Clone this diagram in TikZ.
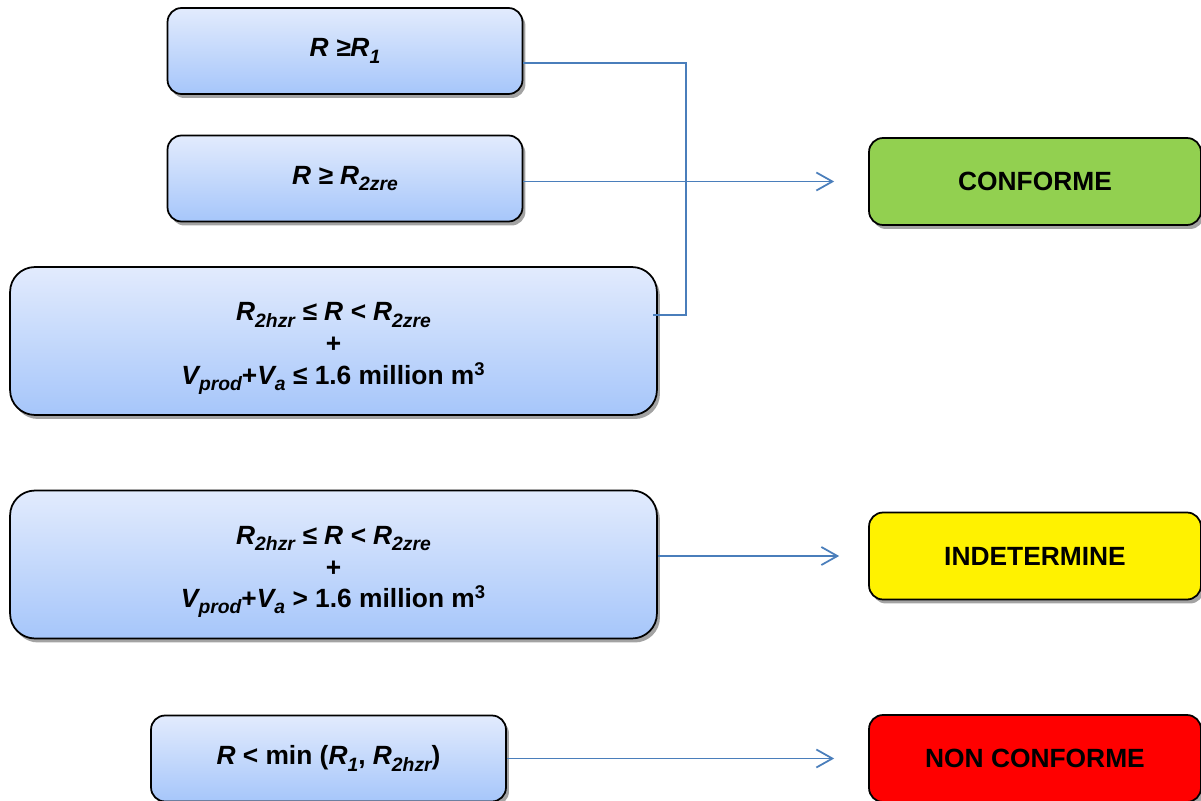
\documentclass[tikz,border=0pt]{standalone}
\usepackage{fontspec}
\setmainfont{Liberation Sans}
\usetikzlibrary{arrows.meta,shadows}
\definecolor{linkblue}{RGB}{74,126,187}
\definecolor{boxtop}{RGB}{226,235,253}
\definecolor{boxbottom}{RGB}{166,198,250}
\definecolor{okgreen}{RGB}{146,208,80}
\newcommand{\dn}[1]{\raisebox{-0.45ex}{\fontsize{11}{11}\selectfont #1}}
\newcommand{\topstrut}{\rule{0pt}{19pt}}

\begin{document}
\begin{tikzpicture}[x=0.02cm, y=-0.02cm,
  condnode/.style={rectangle, rounded corners=2.8mm, draw=black, line width=1pt, top color=boxtop, bottom color=boxbottom, drop shadow={shadow xshift=0.6mm, shadow yshift=-0.8mm, fill=black!45, opacity=0.8}, minimum width=7.1cm, minimum height=1.72cm, align=center, inner sep=0pt, font=\fontsize{15}{18}\selectfont\bfseries},
  bignode/.style={condnode, rounded corners=5mm, minimum width=12.94cm, minimum height=2.96cm},
  resnode/.style={rectangle, rounded corners=2.8mm, draw=black, line width=1pt, drop shadow={shadow xshift=0.6mm, shadow yshift=-0.8mm, fill=black!45, opacity=0.8}, minimum width=6.64cm, minimum height=1.74cm, inner sep=0pt, font=\fontsize{15}{17.5}\selectfont\bfseries},
  link/.style={draw=linkblue, line width=1pt},
  arr/.style={link, -{Straight Barb[length=3.2mm, width=3.6mm]}},]
\useasboundingbox (0,0) rectangle (1201,801);
% nodes
\node[condnode] (r_one) at (345, 51) {\itshape R ≥R\dn{1}};
\node[condnode] (r_zre) at (345, 178.5) {\itshape R ≥ R\dn{2zre}};
\node[bignode] (low_vol) at (333.5, 341) {\topstrut\itshape R\dn{2hzr} ≤ R < R\dn{2zre}\\+\\\textit{V\dn{prod}}+\textit{V\dn{a}} ≤ 1.6 million m\textsuperscript{3}};
\node[bignode] (high_vol) at (333.5, 564.5) {\topstrut\itshape R\dn{2hzr} ≤ R < R\dn{2zre}\\+\\\textit{V\dn{prod}}+\textit{V\dn{a}} > 1.6 million m\textsuperscript{3}};
\node[condnode] (r_min) at (328.5, 758.5) {\textit{R} < min (\textit{R\dn{1}}, \textit{R\dn{2hzr}})};
\node[resnode, fill=okgreen] (conforme) at (1035, 181.5) {CONFORME};
\node[resnode, fill=yellow] (indetermine) at (1035, 556) {INDETERMINE};
\node[resnode, fill=red] (non_conforme) at (1035, 758.5) {NON CONFORME};
\coordinate (bar_top) at (686, 63);
\coordinate (bar_bottom) at (686, 315);
% edges
\draw[link] (r_one.east |- bar_top) -- (bar_top) -- (bar_bottom) -- ([xshift=-1mm]low_vol.east |- bar_bottom);
\draw[arr, shorten >=6.8mm] (r_zre.east |- conforme) -- (conforme.west);
\draw[arr, shorten >=5.8mm] (high_vol.east |- indetermine) -- (indetermine.west);
\draw[arr, shorten >=6.8mm] (r_min.east |- non_conforme) -- (non_conforme.west);
\end{tikzpicture}
\end{document}
